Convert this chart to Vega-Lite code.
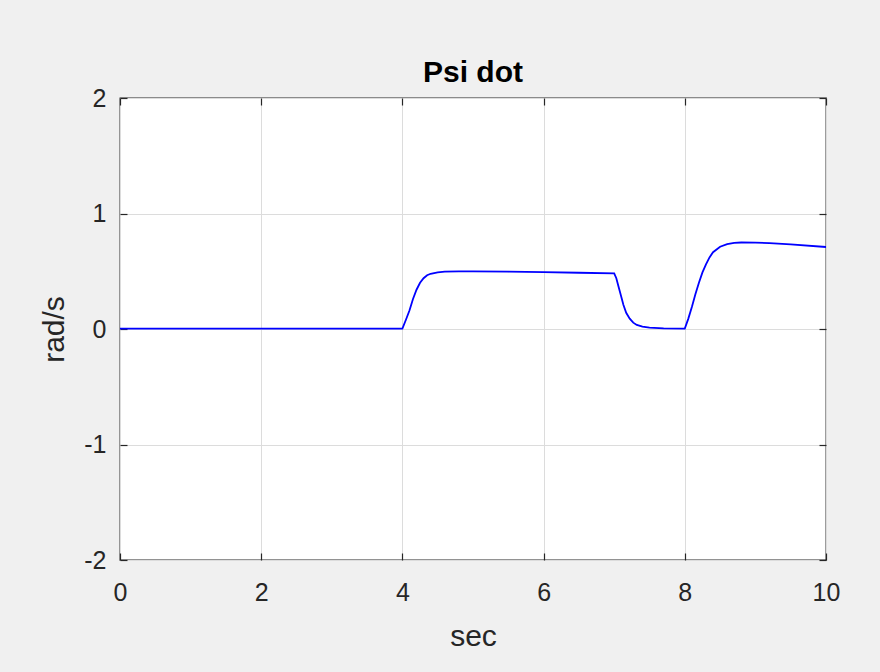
{
  "$schema": "https://vega.github.io/schema/vega-lite/v6.json",
  "autosize": {"type": "none"},
  "width": 706,
  "height": 462,
  "padding": {"left": 120, "top": 98, "right": 54, "bottom": 112},
  "background": "#f0f0f0",
  "title": {
    "text": "Psi dot",
    "font": "Liberation Sans",
    "fontSize": 30,
    "fontWeight": "bold",
    "color": "#000000",
    "anchor": "middle",
    "offset": -2
  },
  "config": {
    "view": {"fill": "white", "stroke": "#262626", "strokeWidth": 1.3},
    "axis": {
      "labelFont": "Liberation Sans",
      "labelFontSize": 25,
      "labelColor": "#262626",
      "labelFlush": false,
      "titleFont": "Liberation Sans",
      "titleFontSize": 30,
      "titleFontWeight": "normal",
      "titleColor": "#262626",
      "domain": false,
      "tickColor": "#262626",
      "tickSize": -7,
      "tickWidth": 1.2,
      "gridColor": "#dcdcdc",
      "gridWidth": 1,
      "labelExpr": "'' + datum.value"
    }
  },
  "data": {
    "values": [
      {"t": 0.0, "v": 0.003},
      {"t": 2.0, "v": 0.003},
      {"t": 4.0, "v": 0.003},
      {"t": 4.05, "v": 0.08},
      {"t": 4.1, "v": 0.16},
      {"t": 4.15, "v": 0.26},
      {"t": 4.2, "v": 0.34},
      {"t": 4.25, "v": 0.40},
      {"t": 4.3, "v": 0.44},
      {"t": 4.35, "v": 0.465},
      {"t": 4.4, "v": 0.478},
      {"t": 4.5, "v": 0.49},
      {"t": 4.6, "v": 0.496},
      {"t": 4.8, "v": 0.499},
      {"t": 5.0, "v": 0.499},
      {"t": 5.5, "v": 0.496},
      {"t": 6.0, "v": 0.492},
      {"t": 6.5, "v": 0.487},
      {"t": 7.0, "v": 0.482},
      {"t": 7.03, "v": 0.44},
      {"t": 7.06, "v": 0.37},
      {"t": 7.1, "v": 0.28},
      {"t": 7.13, "v": 0.21},
      {"t": 7.17, "v": 0.14},
      {"t": 7.22, "v": 0.09},
      {"t": 7.27, "v": 0.055},
      {"t": 7.32, "v": 0.035},
      {"t": 7.4, "v": 0.02},
      {"t": 7.5, "v": 0.012},
      {"t": 7.7, "v": 0.006},
      {"t": 8.0, "v": 0.004},
      {"t": 8.05, "v": 0.09},
      {"t": 8.1, "v": 0.19},
      {"t": 8.15, "v": 0.3},
      {"t": 8.2, "v": 0.4},
      {"t": 8.25, "v": 0.49},
      {"t": 8.3, "v": 0.56},
      {"t": 8.35, "v": 0.62},
      {"t": 8.4, "v": 0.665},
      {"t": 8.5, "v": 0.712},
      {"t": 8.6, "v": 0.735},
      {"t": 8.7, "v": 0.745},
      {"t": 8.8, "v": 0.749},
      {"t": 9.0, "v": 0.748},
      {"t": 9.2, "v": 0.743},
      {"t": 9.5, "v": 0.733},
      {"t": 10.0, "v": 0.71}
    ]
  },
  "layer": [
    {
      "mark": {"type": "line", "color": "#0000ff", "strokeWidth": 1.8, "clip": true},
      "encoding": {
        "x": {
          "field": "t",
          "type": "quantitative",
          "scale": {"domain": [0, 10], "nice": false, "zero": false},
          "axis": {"title": "sec", "values": [0, 2, 4, 6, 8, 10], "labelPadding": 27, "titlePadding": 16}
        },
        "y": {
          "field": "v",
          "type": "quantitative",
          "scale": {"domain": [-2, 2], "nice": false},
          "axis": {"title": "rad/s", "values": [-2, -1, 0, 1, 2], "labelPadding": 21, "titlePadding": 14}
        }
      }
    },
    {
      "mark": {"type": "line", "opacity": 0},
      "encoding": {
        "x": {
          "field": "t",
          "type": "quantitative",
          "axis": {"orient": "top", "title": null, "labels": false, "grid": false, "values": [0, 2, 4, 6, 8, 10]}
        },
        "y": {
          "field": "v",
          "type": "quantitative",
          "axis": {"orient": "right", "title": null, "labels": false, "grid": false, "values": [-2, -1, 0, 1, 2]}
        }
      }
    }
  ],
  "resolve": {"axis": {"x": "independent", "y": "independent"}}
}
